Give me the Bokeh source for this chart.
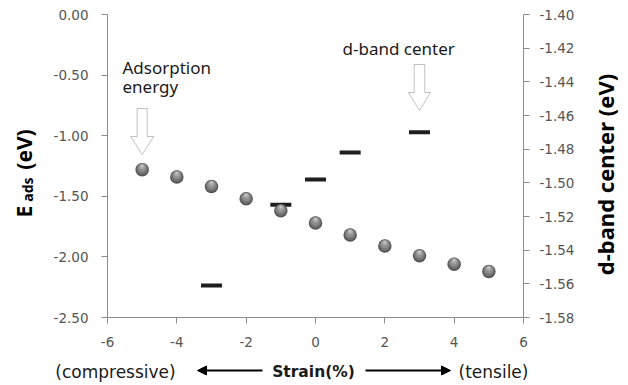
import numpy as np
from bokeh.plotting import figure
from bokeh.models import (Range1d, LinearAxis, FixedTicker, PrintfTickFormatter,
                          Label, PolyAnnotation, Arrow, NormalHead)
from bokeh.embed import file_html
from bokeh.resources import INLINE

# ---- data ----
strain = [-5, -4, -3, -2, -1, 0, 1, 2, 3, 4, 5]
e_ads = [-1.28, -1.34, -1.42, -1.52, -1.62, -1.72, -1.82, -1.91, -1.99, -2.06, -2.12]
dband_strain = [-3, -1, 0, 1, 3]
dband_center = [-1.561, -1.513, -1.498, -1.482, -1.470]
x_ticks = [-6, -4, -2, 0, 2, 4, 6]
left_ticks = [0.0, -0.5, -1.0, -1.5, -2.0, -2.5]
right_ticks = [-1.40, -1.42, -1.44, -1.46, -1.48, -1.50, -1.52, -1.54, -1.56, -1.58]

FONT = "Noto Sans"
TFONT = "DejaVu Sans"
W, H = 628, 385
FL, FR, FT, FB = 107, 523, 14, 317  # plot box in pixels
XMIN, XMAX = -6, 6
YMIN, YMAX = -2.5, 0.0
RMIN, RMAX = -1.58, -1.40

def dx(px):
    return XMIN + (px - FL) * (XMAX - XMIN) / (FR - FL)

def dy(py):
    return YMAX - (py - FT) * (YMAX - YMIN) / (FB - FT)

def dr(py):
    return RMAX - (py - FT) * (RMAX - RMIN) / (FB - FT)

PXY = (YMAX - YMIN) / (FB - FT)
PXX = (XMAX - XMIN) / (FR - FL)

# the frame spans the whole canvas; axes are pinned at the plot box edges
p = figure(width=W, height=H, output_backend="svg", toolbar_location=None,
           x_range=Range1d(dx(0), dx(W)), y_range=Range1d(dy(H), dy(0)),
           min_border=0)
p.outline_line_color = None
p.grid.visible = False
p.background_fill_color = "white"
p.border_fill_color = "white"

p.extra_y_ranges = {"dband": Range1d(dr(H), dr(0))}
raxis = LinearAxis(y_range_name="dband")
p.add_layout(raxis, "right")

xaxis, yaxis = p.xaxis[0], p.yaxis[0]
xaxis.fixed_location = YMIN
xaxis.bounds = (XMIN, XMAX)
yaxis.fixed_location = XMIN
yaxis.bounds = (YMIN, YMAX)
raxis.fixed_location = XMAX
raxis.bounds = (RMIN, RMAX)

AX = "#8c8c8c"
for ax in [xaxis, yaxis, raxis]:
    ax.axis_line_color = AX
    ax.major_tick_line_color = AX
    ax.minor_tick_line_color = None
    ax.major_tick_out = 6
    ax.major_tick_in = 0
    ax.major_label_text_font = TFONT
    ax.major_label_text_font_size = "13.5px"
    ax.major_label_text_color = "#555555"

xaxis.major_label_standoff = 13
yaxis.major_label_standoff = 13
raxis.major_label_standoff = 10

xaxis.ticker = FixedTicker(ticks=x_ticks)
xaxis.formatter = PrintfTickFormatter(format="%d")
yaxis.ticker = FixedTicker(ticks=left_ticks)
yaxis.formatter = PrintfTickFormatter(format="%.2f")
raxis.ticker = FixedTicker(ticks=right_ticks)
raxis.formatter = PrintfTickFormatter(format="%.2f")

# ---- d-band center dashes ----
p.scatter(dband_strain, dband_center, marker="dash", size=21, line_width=4,
          line_color="#1e1e1e", y_range_name="dband")

# ---- adsorption energy balls (layered for shading) ----
e = np.array(e_ads)
p.scatter(strain, e, size=13.5, fill_color="#555555", line_color=None)
p.scatter(strain, e + 0.8 * PXY, size=11.5, fill_color="#727272", line_color=None)
p.scatter(strain, e + 1.8 * PXY, size=8.5, fill_color="#8e8e8e", line_color=None)
p.scatter(strain, e + 3.0 * PXY, size=5, fill_color="#aaaaaa", line_color=None)
p.scatter(strain, e + 3.8 * PXY, size=2.5, fill_color="#c4c4c4", line_color=None)

# ---- hollow block arrows ----
def block_arrow(cx, top_px, base_px, tip_px, sw_px, hw_px):
    sw, hw = sw_px * PXX, hw_px * PXX
    xs = [cx - sw, cx + sw, cx + sw, cx + hw, cx, cx - hw, cx - sw]
    ys = [dy(top_px), dy(top_px), dy(base_px), dy(base_px), dy(tip_px), dy(base_px), dy(base_px)]
    p.add_layout(PolyAnnotation(xs=xs, ys=ys, fill_color="white", fill_alpha=1,
                                line_color="#333333", line_width=1))

block_arrow(strain[0], 108, 136, 154, 5, 11.5)
block_arrow(dband_strain[-1], 64, 92, 110, 5.3, 11)

def label(text, px, py, size, bold=False, align="left", baseline="alphabetic",
          angle=0.0, color="#1a1a1a", font=FONT):
    p.add_layout(Label(x=px, y=py, x_units="canvas", y_units="canvas", text=text,
                       text_font=font, text_font_size=f"{size}px",
                       text_font_style="bold" if bold else "normal",
                       text_align=align, text_baseline=baseline, angle=angle,
                       text_color=color))

label("Adsorption", 122, 67, 17)
label("energy", 122, 86, 17)
label("d-band center", 342, 48, 17)

# ---- left axis title: E_ads (eV) ----
label("E", 23, 211, 21, bold=True, align="center", baseline="middle", angle=np.pi / 2, color="black")
label("ads", 27, 189, 14, bold=True, align="center", baseline="middle", angle=np.pi / 2, color="black")
label("(eV)", 23, 149, 21, bold=True, align="center", baseline="middle", angle=np.pi / 2, color="black")

# ---- right axis title ----
label("d-band center (eV)", 604, 174, 22, bold=True, align="center", baseline="middle",
      angle=np.pi / 2, color="black")

# ---- bottom strain caption ----
label("(compressive)", 115, 371, 17, align="center", baseline="middle", font=TFONT)
label("Strain(%)", 313, 371, 15.5, bold=True, align="center", baseline="middle", font=TFONT)
label("(tensile)", 493, 371, 17, align="center", baseline="middle", font=TFONT)
p.add_layout(Arrow(x_start=262, y_start=370, x_end=197, y_end=370,
                   start_units="canvas", end_units="canvas",
                   line_width=2, line_color="black",
                   end=NormalHead(size=9, fill_color="black", line_color="black")))
p.add_layout(Arrow(x_start=365, y_start=370, x_end=450, y_end=370,
                   start_units="canvas", end_units="canvas",
                   line_width=2, line_color="black",
                   end=NormalHead(size=9, fill_color="black", line_color="black")))

open("out.html", "w").write(file_html(p, INLINE))
